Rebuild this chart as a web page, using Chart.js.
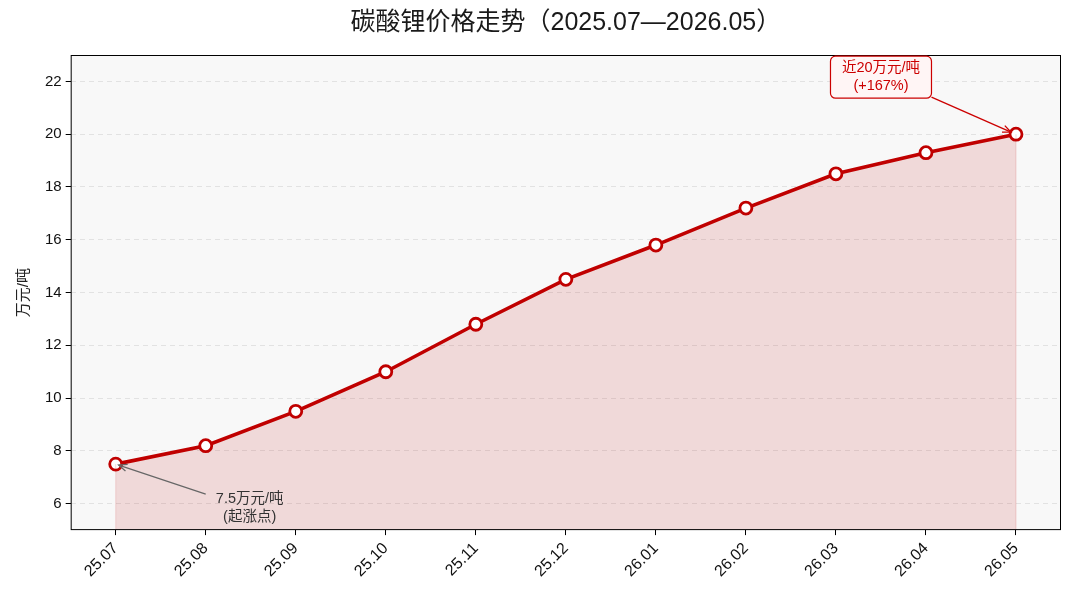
<!DOCTYPE html>
<html>
<head>
<meta charset="utf-8">
<script src="https://cdn.jsdelivr.net/npm/chart.js@4/dist/chart.umd.min.js"></script>
<style>
  html, body { margin: 0; padding: 0; background: #fff; }
  #wrap { width: 1073px; height: 589px; }
</style>
</head>
<body>
<div id="wrap"><canvas id="priceChart"></canvas></div>
<script>
const FONT = '"Liberation Sans", Arial, "Noto Sans CJK SC", sans-serif';

// data
const months = ["25.07", "25.08", "25.09", "25.10", "25.11", "25.12", "26.01", "26.02", "26.03", "26.04", "26.05"];
const prices = [7.5, 8.2, 9.5, 11.0, 12.8, 14.5, 15.8, 17.2, 18.5, 19.3, 20.0];
const yTicks = [6, 8, 10, 12, 14, 16, 18, 20, 22];

// background, frame and notes
const decor = {
  id: "decor",
  beforeDraw(chart) {
    const { ctx, chartArea: a } = chart;
    ctx.save();
    ctx.fillStyle = "#f8f8f8";
    ctx.fillRect(a.left, a.top, a.right - a.left, a.bottom - a.top);
    ctx.restore();
  },
  afterDatasetsDraw(chart) {
    const { ctx, chartArea: a } = chart;
    const pts = chart.getDatasetMeta(0).data;
    const first = pts[0], last = pts[pts.length - 1];

    ctx.save();
    // edges of filled area
    ctx.strokeStyle = "rgba(192,0,0,0.15)";
    ctx.lineWidth = 1;
    [first, last].forEach(p => {
      ctx.beginPath();
      ctx.moveTo(p.x, p.y);
      ctx.lineTo(p.x, a.bottom);
      ctx.stroke();
    });

    // frame
    ctx.strokeStyle = "#000";
    ctx.lineWidth = 1;
    ctx.strokeRect(a.left + 0.5, a.top + 0.5, a.right - a.left - 1, a.bottom - a.top - 1);

    // arrow helper
    function arrow(x1, y1, x2, y2, color) {
      ctx.strokeStyle = color;
      ctx.lineWidth = 1.3;
      ctx.beginPath();
      ctx.moveTo(x1, y1);
      ctx.lineTo(x2, y2);
      ctx.stroke();
      const ang = Math.atan2(y2 - y1, x2 - x1);
      const L = 9, W = 0.4;
      ctx.beginPath();
      ctx.moveTo(x2 - L * Math.cos(ang - W), y2 - L * Math.sin(ang - W));
      ctx.lineTo(x2, y2);
      ctx.lineTo(x2 - L * Math.cos(ang + W), y2 - L * Math.sin(ang + W));
      ctx.stroke();
    }

    // top note
    const bx = last.x - 135, by = last.y - 57;
    const bw = 101, bh = 42;
    ctx.fillStyle = "#fff5f5";
    ctx.strokeStyle = "#cc0000";
    ctx.lineWidth = 1.2;
    ctx.beginPath();
    ctx.roundRect(bx - bw / 2, by - bh / 2, bw, bh, 5);
    ctx.fill();
    ctx.stroke();
    ctx.fillStyle = "#cc0000";
    ctx.font = "14.5px " + FONT;
    ctx.textAlign = "center";
    ctx.textBaseline = "middle";
    ctx.fillText("近20万元/吨", bx, by - 9);
    ctx.fillText("(+167%)", bx, by + 9);
    arrow(bx + bw / 2, by + bh / 2 - 1, last.x - 5, last.y - 2, "#cc0000");

    // bottom note
    const tx = first.x + 134, ty = first.y + 44;
    ctx.fillStyle = "#333";
    ctx.fillText("7.5万元/吨", tx, ty - 9);
    ctx.fillText("(起涨点)", tx, ty + 9);
    arrow(tx - 44, ty - 14, first.x + 3, first.y + 1, "#666");
    ctx.restore();
  }
};

new Chart(document.getElementById("priceChart"), {
  type: "line",
  data: {
    labels: months,
    datasets: [{
      data: prices,
      borderColor: "#c00000",
      borderWidth: 3.6,
      backgroundColor: "rgba(192,0,0,0.12)",
      fill: "start",
      tension: 0,
      pointRadius: 6,
      pointBorderWidth: 2.8,
      pointBackgroundColor: "#fff",
      pointBorderColor: "#c00000"
    }]
  },
  options: {
    responsive: true,
    maintainAspectRatio: false,
    animation: false,
    layout: { padding: { left: 11, right: 12, top: 4, bottom: 4 } },
    plugins: {
      legend: { display: false },
      tooltip: { enabled: false },
      title: {
        display: true,
        fullSize: false,
        text: "碳酸锂价格走势（2025.07—2026.05）",
        color: "#1a1a1a",
        font: { family: FONT, size: 25, weight: "normal" },
        padding: { top: 4, bottom: 17 }
      }
    },
    scales: {
      x: {
        offset: true,
        grid: { display: true, drawOnChartArea: false, tickLength: 5, color: "#000" },
        border: { display: false },
        ticks: {
          color: "#111",
          font: { family: FONT, size: 16 },
          maxRotation: 45,
          minRotation: 45,
          padding: 4
        }
      },
      y: {
        min: 5,
        max: 23,
        afterBuildTicks(scale) {
          scale.ticks = yTicks.map(v => ({ value: v }));
        },
        grid: { color: "#e2e2e2", tickColor: "#000", tickLength: 5, tickBorderDash: [] },
        border: { display: false, dash: [5, 4] },
        ticks: {
          color: "#111",
          font: { family: FONT, size: 15 },
          padding: 4
        },
        title: {
          display: true,
          text: "万元/吨",
          color: "#222",
          font: { family: FONT, size: 15 },
          padding: { bottom: 8 }
        }
      }
    }
  },
  plugins: [decor]
});
</script>
</body>
</html>
